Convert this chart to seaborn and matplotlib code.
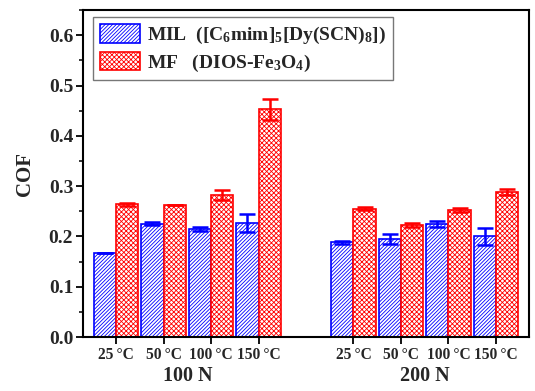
import numpy as np
import pandas as pd
import matplotlib
matplotlib.use("Agg")
import matplotlib.pyplot as plt
import seaborn as sns
from matplotlib.ticker import MultipleLocator
from matplotlib.patches import Patch

# --- data -------------------------------------------------------------
loads = ["100 N", "200 N"]
temps = ["25\u2009°C", "50\u2009°C", "100\u2009°C", "150\u2009°C"]
series = ["MIL", "MF"]
legend_labels = [
    r"MIL  ([C$_6$mim]$_5$[Dy(SCN)$_8$])",
    r"MF   (DIOS-Fe$_3$O$_4$)",
]
# COF means, ordered 100 N (25..150 °C) then 200 N (25..150 °C)
mil_cof = [0.168, 0.225, 0.215, 0.226, 0.188, 0.195, 0.225, 0.200]
mf_cof = [0.264, 0.263, 0.282, 0.453, 0.255, 0.222, 0.253, 0.288]
mil_err = [0.000, 0.003, 0.004, 0.018, 0.002, 0.010, 0.006, 0.016]
mf_err = [0.003, 0.000, 0.010, 0.021, 0.003, 0.004, 0.004, 0.006]

# x slot of each temperature, with an empty slot between load groups
slots = [0, 1, 2, 3, 5, 6, 7, 8]
tick_labels = temps + temps

df = pd.DataFrame({
    "slot": slots * 2,
    "cof": mil_cof + mf_cof,
    "err": mil_err + mf_err,
    "series": [series[0]] * len(slots) + [series[1]] * len(slots),
})

# --- style ------------------------------------------------------------
sns.set_theme(style="ticks")
serif = ["Liberation Serif", "DejaVu Serif"]
plt.rcParams["font.family"] = serif
plt.rcParams["font.weight"] = "bold"
plt.rcParams["mathtext.fontset"] = "custom"
plt.rcParams["mathtext.rm"] = "Liberation Serif:bold"
plt.rcParams["mathtext.it"] = "Liberation Serif:italic:bold"
plt.rcParams["mathtext.bf"] = "Liberation Serif:bold"
plt.rcParams["mathtext.default"] = "rm"
plt.rcParams["hatch.linewidth"] = 0.6

colors = {"MIL": "#0000ff", "MF": "#ff0000"}
hatches = {"MIL": "/////////", "MF": "xxxxxxx"}

fig = plt.figure(figsize=(5.35, 3.91), dpi=100)
ax = fig.add_axes([0.155, 0.138, 0.834, 0.836])

sns.barplot(data=df, x="slot", y="cof", hue="series", hue_order=series,
            native_scale=True, width=0.94, palette=colors, errorbar=None,
            ax=ax, legend=False)

for cont, name in zip(ax.containers, series):
    sub = df[df["series"] == name]
    xs, tops = [], []
    for bar in cont:
        bar.set_facecolor("white")
        bar.set_edgecolor(colors[name])
        bar.set_hatch(hatches[name])
        bar.set_linewidth(1.2)
        xs.append(bar.get_x() + bar.get_width() / 2)
        tops.append(bar.get_height())
    ax.errorbar(xs, tops, yerr=sub["err"].to_numpy(), fmt="none",
                ecolor=colors[name], elinewidth=1.8, capsize=5.5,
                capthick=1.8, zorder=5)

# --- axes -------------------------------------------------------------
ax.set_xlim(-0.7, 8.7)
ax.set_ylim(0.0, 0.65)
ax.set_xticks(slots)
ax.set_xticklabels(tick_labels, fontsize=11.2, fontweight="bold")
ax.yaxis.set_major_locator(MultipleLocator(0.1))
ax.yaxis.set_minor_locator(MultipleLocator(0.05))
ax.set_yticks(np.arange(0, 0.61, 0.1))
ax.set_yticklabels([f"{v:.1f}" for v in np.arange(0, 0.61, 0.1)],
                   fontsize=14, fontweight="bold")
ax.tick_params(axis="both", which="major", direction="out", length=5,
               width=1.3, color="black", pad=2)
ax.tick_params(axis="y", which="minor", direction="out", length=3,
               width=1.1, color="black")
for sp in ax.spines.values():
    sp.set_visible(True)
    sp.set_linewidth(1.5)
    sp.set_color("black")

ax.set_xlabel("")
ax.set_ylabel("COF", fontsize=15, fontweight="bold", labelpad=10)

for i, load in enumerate(loads):
    center = np.mean(slots[i * 4:(i + 1) * 4])
    ax.text(center, -0.118, load, transform=ax.get_xaxis_transform(),
            ha="center", va="center", fontsize=14.5, fontweight="bold")

handles = [Patch(facecolor="white", edgecolor=colors[s], hatch=hatches[s],
                 linewidth=1.2) for s in series]
leg = ax.legend(handles, legend_labels, loc="upper left",
                bbox_to_anchor=(0.022, 0.979), borderaxespad=0,
                fancybox=False, edgecolor="#777777", framealpha=1,
                handlelength=2.1, handleheight=1.1, handletextpad=0.35,
                borderpad=0.35, labelspacing=0.3,
                prop={"family": serif, "weight": "bold", "size": 14})
leg.get_frame().set_linewidth(1.0)

fig.patch.set_facecolor("white")
fig.savefig("out.png", dpi=100)
